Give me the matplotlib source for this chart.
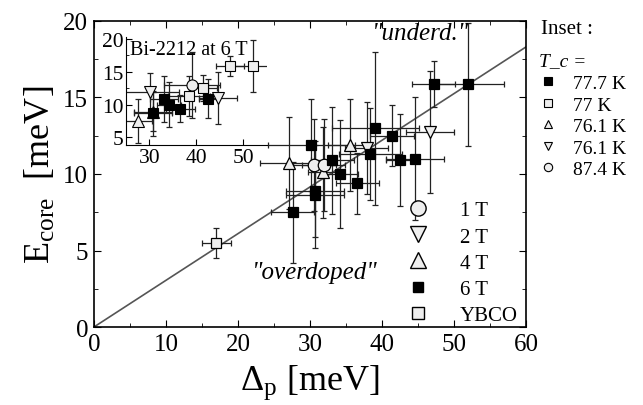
import numpy as np
import matplotlib
matplotlib.use('Agg')
import matplotlib.pyplot as plt
from matplotlib.lines import Line2D

plt.rcParams['font.family'] = ['Liberation Serif', 'DejaVu Serif']
plt.rcParams['mathtext.fontset'] = 'custom'
plt.rcParams['mathtext.rm'] = 'Liberation Serif'
plt.rcParams['mathtext.it'] = 'Liberation Serif:italic'

# Bi-2212 at 6 T (shown in main plot and in inset, split by sample Tc)
gap_6t = [27.6, 30.7, 30.7, 30.2, 33.1, 34.2, 36.6, 38.4, 39.1, 41.4, 42.5, 44.6, 47.2, 52.0]
ecore_6t = [7.5, 8.9, 8.65, 11.9, 10.9, 10.0, 9.4, 11.3, 13.0, 12.5, 10.9, 11.0, 15.85, 15.85]
gap_err_6t = [3.0, 4.0, 4.0, 6.0, 3.0, 2.5, 3.0, 4.4, 6.0, 3.0, 2.0, 4.0, 3.0, 5.0]
ecore_err_6t = [3.3, 3.0, 3.5, 3.0, 3.5, 3.5, 2.0, 3.0, 5.0, 2.0, 3.0, 4.0, 1.5, 4.0]
sample_6t = ['up', 'up', 'fill', 'down', 'fill', 'fill', 'fill', 'open', 'circ', 'open', 'fill', 'down', 'open', 'open']

# lower fields
gap_1t = [30.6, 31.9]
ecore_1t = [10.6, 10.6]
gap_err_1t = [3.0, 3.0]
ecore_err_1t = [3.0, 3.0]

gap_2t = [46.7, 37.9]
ecore_2t = [12.75, 11.7]
gap_err_2t = [3.3, 3.0]
ecore_err_2t = [4.0, 3.0]

gap_4t = [27.1, 35.5, 31.8]
ecore_4t = [10.7, 11.9, 10.1]
gap_err_4t = [4.0, 3.0, 2.0]
ecore_err_4t = [3.0, 3.0, 3.0]

gap_ybco = [17.0]
ecore_ybco = [5.5]
gap_err_ybco = [2.0]
ecore_err_ybco = [1.0]

line_slope = 0.305

inset_keys = ['fill', 'open', 'up', 'down', 'circ']
inset_tc = ['77.7 K', '77 K', '76.1 K', '76.1 K', '87.4 K']

LIGHT = '#eeeeee'
marker_style = {
    'fill': dict(marker='s', mfc='black'),
    'open': dict(marker='s', mfc=LIGHT),
    'up': dict(marker='^', mfc=LIGHT),
    'down': dict(marker='v', mfc=LIGHT),
    'circ': dict(marker='o', mfc=LIGHT),
}
eb_kw = dict(fmt='none', ecolor='#222222', elinewidth=0.9, capsize=2, capthick=0.9)

fig = plt.figure(figsize=(6.43, 4.06), dpi=100)
ax = fig.add_axes([0.146, 0.192, 0.672, 0.754])

xl = np.array([0, 60])
ax.plot(xl, line_slope * xl, color='#555555', lw=1.2, zorder=1)

for gx, gy, ex, ey, mk, ms in [
    (gap_ybco, ecore_ybco, gap_err_ybco, ecore_err_ybco, dict(marker='s', mfc=LIGHT), 7),
    (gap_4t, ecore_4t, gap_err_4t, ecore_err_4t, dict(marker='^', mfc=LIGHT), 9),
    (gap_2t, ecore_2t, gap_err_2t, ecore_err_2t, dict(marker='v', mfc=LIGHT), 9),
    (gap_1t, ecore_1t, gap_err_1t, ecore_err_1t, dict(marker='o', mfc=LIGHT), 9),
    (gap_6t, ecore_6t, gap_err_6t, ecore_err_6t, dict(marker='s', mfc='black'), 6.5),
]:
    ax.errorbar(gx, gy, xerr=ex, yerr=ey, zorder=2, **eb_kw)
    ax.plot(gx, gy, ls='none', mec='black', mew=0.9, ms=ms, zorder=3, **mk)

ax.set_xlim(0, 60)
ax.set_ylim(0, 20)
ax.set_xticks(np.arange(0, 61, 10))
ax.set_xticks(np.arange(0, 61, 5), minor=True)
ax.set_yticks(np.arange(0, 21, 5))
ax.set_yticks(np.arange(0, 21, 2.5), minor=True)
ax.tick_params(which='both', direction='in', top=True, right=True, labelsize=18, pad=4)
ax.tick_params(which='major', length=5)
ax.tick_params(which='minor', length=3)
for s in ax.spines.values():
    s.set_linewidth(1.2)

ax.set_xlabel('Δ$_\\mathrm{p}$ [meV]', fontsize=26, labelpad=6)
ax.set_ylabel('E$_\\mathrm{core}$  [meV]', fontsize=26, labelpad=4)

ax.text(45.3, 19.2, '"underd."', style='italic', fontsize=18, ha='center', va='center')
ax.text(30.6, 3.6, '"overdoped"', style='italic', fontsize=18, ha='center', va='center')

handles = [
    Line2D([], [], ls='none', marker='o', mfc=LIGHT, mec='black', ms=11),
    Line2D([], [], ls='none', marker='v', mfc=LIGHT, mec='black', ms=11),
    Line2D([], [], ls='none', marker='^', mfc=LIGHT, mec='black', ms=11),
    Line2D([], [], ls='none', marker='s', mfc='black', mec='black', ms=7),
    Line2D([], [], ls='none', marker='s', mfc=LIGHT, mec='black', ms=8),
]
leg1 = ax.legend(handles, ['1 T', '2 T', '4 T', '6 T', 'YBCO'], loc='lower right',
                 bbox_to_anchor=(1.01, -0.035), frameon=False, fontsize=15,
                 handletextpad=1.0, labelspacing=0.32, borderaxespad=0.2)
ax.add_artist(leg1)

# right hand key for the inset
ax.text(1.035, 0.975, 'Inset :', transform=ax.transAxes, fontsize=15, ha='left', va='center')
ax.text(1.03, 0.87, 'T_c =', transform=ax.transAxes, fontsize=14, style='italic',
        ha='left', va='center')
h2 = [Line2D([], [], ls='none', mec='black', mew=0.8, ms=6, **marker_style[k]) for k in inset_keys]
ax.legend(h2, inset_tc, loc='upper left', bbox_to_anchor=(1.005, 0.85), frameon=False,
          fontsize=14, handletextpad=0.7, labelspacing=0.2, borderaxespad=0.0,
          handlelength=1.2)

# inset
axi = fig.add_axes([0.196, 0.640, 0.219, 0.266])
axi.patch.set_alpha(0)
for key in inset_keys[::-1]:
    idx = [i for i, s in enumerate(sample_6t) if s == key]
    gx = [gap_6t[i] for i in idx]
    gy = [ecore_6t[i] for i in idx]
    ex = [gap_err_6t[i] for i in idx]
    ey = [ecore_err_6t[i] for i in idx]
    axi.errorbar(gx, gy, xerr=ex, yerr=ey, zorder=2, **eb_kw)
    ms = 7 if key in ('fill', 'open') else 8
    axi.plot(gx, gy, ls='none', mec='black', mew=0.8, ms=ms, zorder=3, **marker_style[key])
axi.set_xlim(25, 55)
axi.set_ylim(3.8, 20.3)
axi.set_xticks([30, 40, 50])
axi.set_yticks([5, 10, 15, 20])
axi.set_yticks([7.5, 12.5, 17.5], minor=True)
axi.spines['top'].set_visible(False)
axi.spines['right'].set_visible(False)
axi.tick_params(which='both', direction='in', labelsize=15.5, pad=2)
axi.tick_params(which='major', length=4)
axi.tick_params(which='minor', length=2.5)
axi.text(0.03, 0.97, 'Bi-2212 at 6 T', transform=axi.transAxes, fontsize=14.5,
         ha='left', va='top')

fig.savefig('out.png', dpi=100)
